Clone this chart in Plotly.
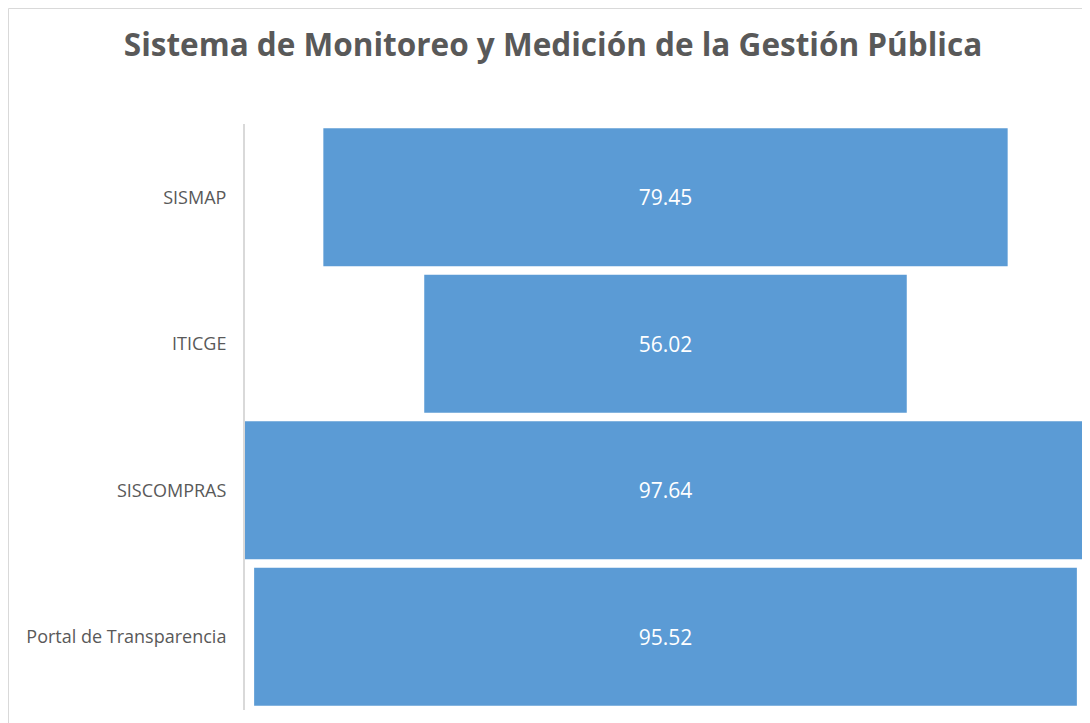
import plotly.graph_objects as go

categories = ["SISMAP", "ITICGE", "SISCOMPRAS", "Portal de Transparencia"]
values = [79.45, 56.02, 97.64, 95.52]

# page body has an 8px margin: figure origin sits at (8, 8) in the window
OFF = 8
W, H = 1090 - OFF, 723 - OFF
ML, MR = 245 - OFF, 4
MT, MB = 124 - OFF, 13
pw = W - ML - MR
ph = H - MT - MB

fig = go.Figure(go.Funnel(
    y=categories,
    x=values,
    textinfo="value",
    texttemplate="%{x:.2f}",
    textposition="inside",
    insidetextanchor="middle",
    textfont=dict(color="white", size=21, family="Open Sans"),
    marker=dict(color="#5B9BD5", line=dict(width=0)),
    connector=dict(visible=False),
    hoverinfo="y+x",
))

vmax = max(values)
fig.update_layout(
    width=W, height=H,
    margin=dict(l=ML, r=MR, t=MT, b=MB),
    paper_bgcolor="white", plot_bgcolor="white",
    title=dict(text="<b>Sistema de Monitoreo y Medición de la Gestión Pública</b>",
               x=(553 - OFF) / W, xanchor="center", y=1 - (45 - OFF) / H, yanchor="middle",
               font=dict(family="Open Sans", size=31.5, color="#595959")),
    funnelgap=0.058,
    showlegend=False,
    xaxis=dict(visible=False, range=[-vmax / 2, vmax / 2]),
    yaxis=dict(showline=True, linecolor="#D9D9D9", linewidth=2, showgrid=False,
               ticks="", ticklabelstandoff=13,
               tickfont=dict(family="Open Sans", size=18, color="#595959")),
    shapes=[dict(type="rect", xref="paper", yref="paper",
                 x0=(0.5 - ML) / pw, x1=(W + 20 - ML) / pw,
                 y0=-(MB + 20) / ph, y1=(H - MB - 0.5) / ph,
                 line=dict(color="#D9D9D9", width=1), layer="below")],
)

fig.write_html("out.html")
